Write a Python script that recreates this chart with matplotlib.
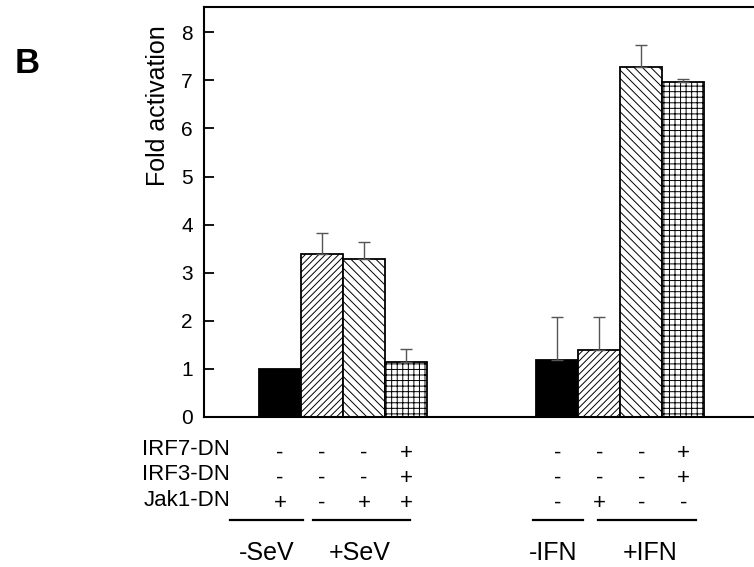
import numpy as np
import matplotlib.pyplot as plt

plt.rcParams['font.family'] = ['Liberation Sans', 'DejaVu Sans']
plt.rcParams['hatch.linewidth'] = 0.7

# bar heights (fold activation) and upper error bar lengths
sev_values = [0.99, 3.39, 3.28, 1.14]
sev_errors = [0.0, 0.43, 0.35, 0.27]
ifn_values = [1.19, 1.39, 7.27, 6.97]
ifn_errors = [0.88, 0.68, 0.47, 0.06]

hatches = [None, '/////', '\\\\\\\\', '+++']
colors = ['black', 'white', 'white', 'white']

row_labels = ['IRF7-DN', 'IRF3-DN', 'Jak1-DN']
sev_signs = [['-', '-', '-', '+'],
             ['-', '-', '-', '+'],
             ['+', '-', '+', '+']]
ifn_signs = [['-', '-', '-', '+'],
             ['-', '-', '-', '+'],
             ['-', '+', '-', '-']]
group_labels = ['-SeV', '+SeV', '-IFN', '+IFN']

fig = plt.figure(figsize=(7.54, 5.67), dpi=100)
ax = fig.add_axes([0.2706, 0.265, 0.7427, 0.722])

x_sev = np.arange(4)
x_ifn = np.arange(4) + 6.6

for xs, vals, errs in [(x_sev, sev_values, sev_errors), (x_ifn, ifn_values, ifn_errors)]:
    for i in range(4):
        ax.bar(xs[i], vals[i], width=1.0, color=colors[i], edgecolor='black',
               linewidth=1.3, hatch=hatches[i], zorder=2)
        if errs[i] > 0:
            ax.errorbar(xs[i], vals[i], yerr=[[0], [errs[i]]], fmt='none',
                        ecolor='#555555', elinewidth=1.0, capsize=4, capthick=1.0, zorder=3)

ax.set_xlim(-1.81, 11.52)
ax.set_ylim(0, 8.52)
ax.set_yticks(range(0, 9))
ax.set_xticks([])
ax.tick_params(axis='y', direction='in', length=7, width=1.3, labelsize=15, pad=8)
for s in ['left', 'bottom', 'top']:
    ax.spines[s].set_linewidth(1.5)
ax.spines['right'].set_visible(False)

ax.set_ylabel('Fold activation', fontsize=18)
ax.yaxis.set_label_coords(-0.061, 0.761)

fig.text(0.019, 0.888, 'B', fontsize=25, fontweight='bold', ha='left', va='center')

# condition table below the bars
label_y = [-0.80, -1.32, -1.86]
sign_y = [-0.88, -1.40, -1.92]
for r, lab in enumerate(row_labels):
    ax.text(-1.19, label_y[r], lab, ha='right', va='baseline', fontsize=16, clip_on=False)
    for i in range(4):
        ax.text(x_sev[i], sign_y[r], sev_signs[r][i], ha='center', va='baseline',
                fontsize=16, clip_on=False)
        ax.text(x_ifn[i], sign_y[r], ifn_signs[r][i], ha='center', va='baseline',
                fontsize=16, clip_on=False)

line_y = -2.15
spans = [(-1.19, 0.55), (0.79, 3.10), (6.02, 7.21), (7.57, 9.9)]
for a, b in spans:
    ax.plot([a, b], [line_y, line_y], color='black', linewidth=1.6, clip_on=False)

label_x = [-0.31, 1.90, 6.50, 8.81]
for lx, lab in zip(label_x, group_labels):
    ax.text(lx, -2.98, lab, ha='center', va='baseline', fontsize=18, clip_on=False)

fig.savefig('out.png', dpi=100)
